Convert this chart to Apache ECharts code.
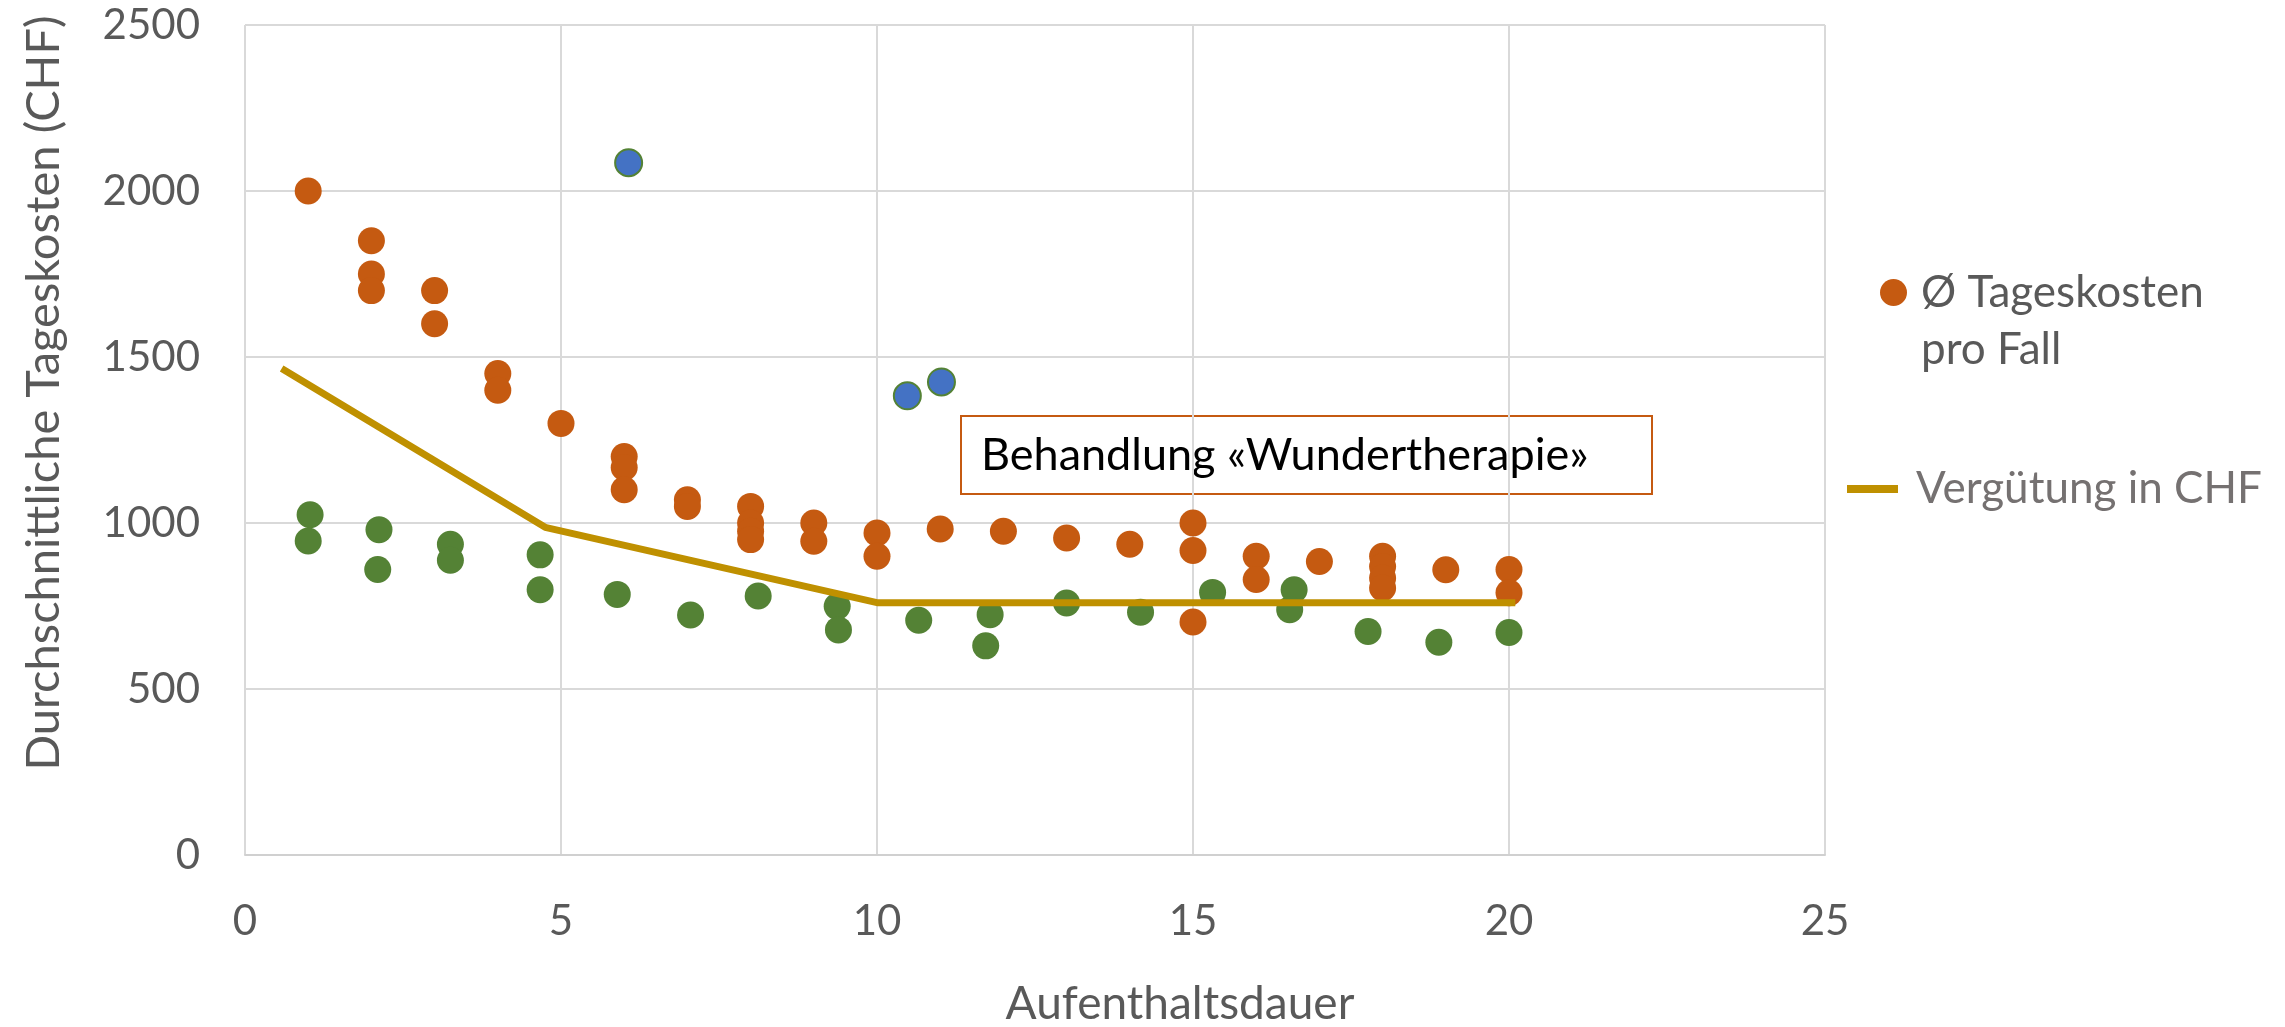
<!DOCTYPE html>
<html>
<head>
<meta charset="utf-8">
<script src="https://cdn.jsdelivr.net/npm/echarts@6/dist/echarts.min.js"></script>
<style>
html, body { margin: 0; padding: 0; background: #fff; }
#main { width: 2285px; height: 1027px; }
</style>
</head>
<body>
<div id="main"></div>
<script>
// Ø Tageskosten pro Fall (orange)
var costDays = [1, 2, 2, 2, 3, 3, 4, 4, 5, 6, 6, 6, 7, 7, 8, 8, 8, 8, 9, 9, 10, 10, 11, 12, 13, 14, 15, 15, 15, 16, 16, 17, 18, 18, 18, 18, 19, 20, 20];
var costCHF = [2000, 1850, 1750, 1700, 1700, 1600, 1450, 1400, 1300, 1200, 1167, 1100, 1070, 1050, 1050, 1000, 975, 950, 1000, 945, 970, 900, 982, 975, 955, 936, 1000, 917, 702, 900, 830, 884, 900, 869, 834, 804, 859, 860, 790];
// Fälle unter der Vergütung (grün)
var lowDays = [1.03, 1.0, 2.12, 2.1, 3.25, 3.25, 4.67, 4.67, 5.89, 7.05, 8.12, 9.37, 9.39, 10.66, 11.79, 11.72, 13.0, 14.17, 15.31, 16.6, 16.53, 17.77, 18.89, 20.0];
var lowCHF = [1025, 946, 980, 860, 936, 888, 904, 799, 785, 723, 780, 749, 678, 707, 724, 630, 759, 731, 791, 799, 739, 673, 641, 670];
// Wundertherapie (blau)
var wunderDays = [6.07, 10.48, 11.02];
var wunderCHF = [2085, 1383, 1425];
// Vergütung in CHF
var tarifDays = [0.58, 4.75, 10, 20.1];
var tarifCHF = [1465, 987, 760, 760];

var xTicks = [0, 5, 10, 15, 20, 25];
var yTicks = [0, 500, 1000, 1500, 2000, 2500];

function zip(a, b) {
	var out = [];
	a.forEach(function(v, i) { out.push([v, b[i]]); });
	return out;
}

var FONT = 'Lato';
var myChart = echarts.init(document.getElementById('main'));
var option = {
	backgroundColor: '#fff',
	animation: false,
	textStyle: { fontFamily: FONT },
	grid: { left: 245, top: 25, width: 1580, height: 830, containLabel: false, outerBoundsMode: 'none' },
	legend: [
		{
			left: 1880, top: 207, padding: 0,
			selectedMode: false,
			icon: 'circle', itemWidth: 27, itemHeight: 27,
			data: ['Ø Tageskosten pro Fall'],
			// leere erste Zeile, damit der Punkt auf Höhe der ersten Textzeile sitzt
			formatter: function() { return ' \nØ Tageskosten\npro Fall'; },
			textStyle: { fontFamily: FONT, fontSize: 44, color: '#595959', lineHeight: 57, padding: [0, 0, 0, 9] }
		},
		{
			left: 1847, top: 467, padding: 0,
			selectedMode: false,
			icon: 'rect', itemWidth: 51, itemHeight: 8,
			data: ['Vergütung in CHF'],
			textStyle: { fontFamily: FONT, fontSize: 44, color: '#757171', padding: [0, 0, 0, 13] }
		}
	],
	xAxis: {
		type: 'value', min: 0, max: 25, interval: 5,
		name: 'Aufenthaltsdauer', nameLocation: 'middle', nameGap: 126,
		nameTextStyle: { fontFamily: FONT, fontSize: 46, color: '#595959', padding: [0, 0, 0, 290] },
		axisLine: { show: true, lineStyle: { color: '#d0d0d0', width: 2 } },
		axisTick: { show: false },
		splitLine: { show: true, lineStyle: { color: '#d9d9d9', width: 2 } },
		axisLabel: { margin: 45, fontFamily: FONT, fontSize: 42, color: '#595959',
			formatter: function(v) { return xTicks.indexOf(v) >= 0 ? String(v) : ''; } }
	},
	yAxis: {
		type: 'value', min: 0, max: 2500, interval: 500,
		name: 'Durchschnittliche Tageskosten (CHF)', nameLocation: 'middle', nameGap: 178,
		nameTextStyle: { fontFamily: FONT, fontSize: 47, color: '#595959', padding: [0, 0, 0, 94] },
		axisLine: { show: false },
		axisTick: { show: false },
		splitLine: { show: true, lineStyle: { color: '#d9d9d9', width: 2 } },
		axisLabel: { margin: 45, fontFamily: FONT, fontSize: 42, color: '#595959',
			formatter: function(v) { return yTicks.indexOf(v) >= 0 ? String(v) : ''; } }
	},
	graphic: [
		{
			type: 'group', left: 960, top: 415, z: 10,
			children: [
				{ type: 'rect', shape: { x: 0, y: 0, width: 691, height: 78 },
				  style: { fill: '#fff', stroke: '#c55a11', lineWidth: 2 } },
				{ type: 'text', x: 20, y: 39,
				  style: { text: 'Behandlung «Wundertherapie»', font: '45px ' + FONT, fill: '#000', verticalAlign: 'middle' } }
			]
		}
	],
	series: [
		{
			name: 'Ø Tageskosten pro Fall', type: 'scatter', symbolSize: 27, z: 2,
			itemStyle: { color: '#c55a11', opacity: 1 },
			data: zip(costDays, costCHF)
		},
		{
			name: 'Unter Vergütung', type: 'scatter', symbolSize: 27, z: 2,
			itemStyle: { color: '#548235', opacity: 1 },
			data: zip(lowDays, lowCHF)
		},
		{
			name: 'Wundertherapie', type: 'scatter', symbolSize: 27, z: 2,
			itemStyle: { color: '#4472c4', borderColor: '#548235', borderWidth: 2, opacity: 1 },
			data: zip(wunderDays, wunderCHF)
		},
		{
			name: 'Vergütung in CHF', type: 'line', z: 3,
			showSymbol: false, symbol: 'none',
			lineStyle: { color: '#bf9000', width: 7 },
			itemStyle: { color: '#bf9000' },
			data: zip(tarifDays, tarifCHF)
		}
	]
};
myChart.setOption(option, true);
</script>
</body>
</html>
